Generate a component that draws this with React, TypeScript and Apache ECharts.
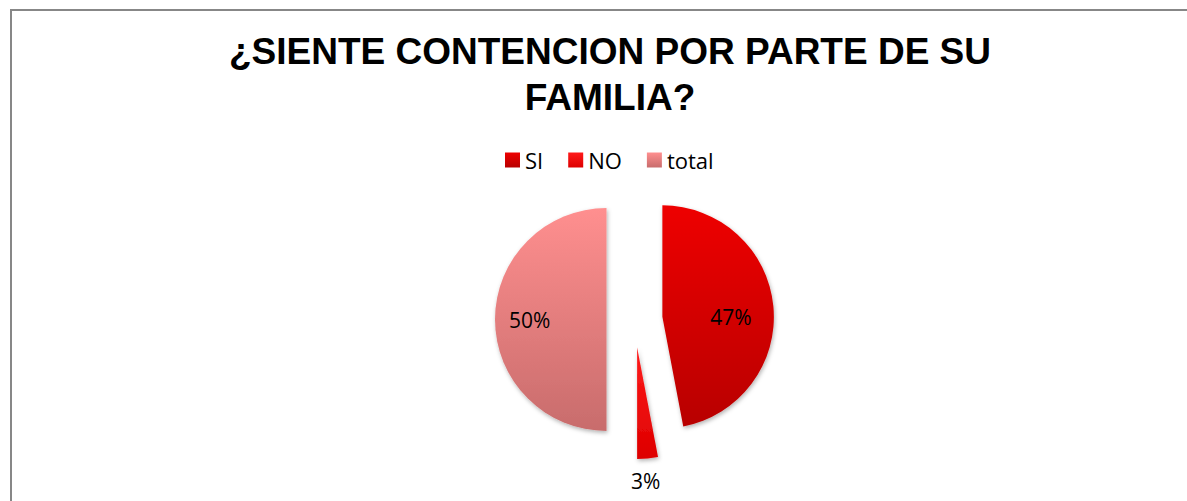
import React, { useEffect, useRef } from "react";
import * as echarts from "echarts";

const titleLines = ["¿SIENTE CONTENCION POR PARTE DE SU", "FAMILIA?"];
const categories = ["SI", "NO", "total"];
const values = [47, 3, 50];

const topColors = ["#EE0000", "#FF1A1A", "#FF8F8F"];
const bottomColors = ["#B80000", "#DD0000", "#C86C6C"];
const labelShifts: [number, number][] = [
  [10, 6],
  [3, 75],
  [-18, 0],
];

export default function App() {
  const ref = useRef<HTMLDivElement>(null);
  useEffect(() => {
    document.body.style.overflow = "hidden";
    const chart = echarts.init(ref.current!, undefined, { renderer: "svg" });
    const grad = (i: number) =>
      new echarts.graphic.LinearGradient(0, 0, 0, 1, [
        { offset: 0, color: topColors[i] },
        { offset: 1, color: bottomColors[i] },
      ]);
    chart.setOption({
      animation: false,
      backgroundColor: "#ffffff",
      graphic: [
        {
          type: "rect",
          shape: { x: 11, y: 10, width: 1250, height: 600 },
          style: { fill: "none", stroke: "#878787", lineWidth: 2 },
          silent: true,
          z: 0,
        },
      ],
      title: {
        text: titleLines.join("\n"),
        left: 610,
        top: 28,
        padding: 0,
        textAlign: "center",
        textStyle: {
          fontFamily: "Liberation Sans, Arial, sans-serif",
          fontWeight: "bold",
          fontSize: 37,
          lineHeight: 46,
          color: "#000000",
        },
      },
      legend: {
        data: categories,
        left: 505,
        top: 149,
        padding: 0,
        itemWidth: 15,
        itemHeight: 15,
        itemGap: 25,
        icon: "rect",
        selectedMode: false,
        textStyle: {
          fontFamily: "Open Sans, sans-serif",
          fontSize: 22,
          color: "#000000",
        },
      },
      series: [
        {
          type: "pie",
          center: [634.5, 319.5],
          radius: 111.5,
          startAngle: 90,
          clockwise: true,
          selectedMode: "multiple",
          selectedOffset: 28,
          emphasis: { disabled: true, scale: false },
          silent: true,
          labelLine: { show: false },
          label: {
            show: true,
            position: "inside",
            formatter: "{d}%",
            fontFamily: "Open Sans, sans-serif",
            fontSize: 21,
            color: "#000000",
          },
          labelLayout: (p: any) => ({
            dx: labelShifts[p.dataIndex][0],
            dy: labelShifts[p.dataIndex][1],
          }),
          itemStyle: {
            shadowBlur: 4,
            shadowColor: "rgba(0,0,0,0.3)",
            shadowOffsetX: 1,
            shadowOffsetY: 2,
          },
          data: categories.map((name, i) => ({
            name,
            value: values[i],
            selected: true,
            itemStyle: { color: grad(i) },
          })),
        },
      ],
    });
    return () => chart.dispose();
  }, []);
  return (
    <div
      ref={ref}
      style={{ position: "fixed", left: 0, top: 0, width: 1187, height: 501 }}
    />
  );
}
